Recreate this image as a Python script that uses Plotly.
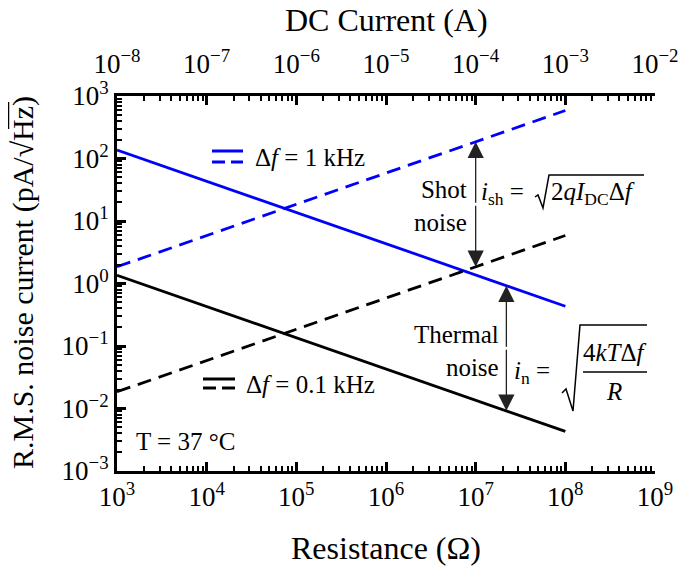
import math
import plotly.graph_objects as go

# ---------------- data ----------------
resistance = [1e3, 1e8]                 # Ohm (bottom axis)
thermal_1k = [137, 0.433]               # pA/sqrt(Hz), delta f = 1 kHz
thermal_01k = [1.35, 0.0043]            # pA/sqrt(Hz), delta f = 0.1 kHz

dc_current = [1e-8, 1e-3]               # A (top axis)
shot_1k = [1.85, 585]                   # pA/sqrt(Hz), delta f = 1 kHz
shot_01k = [0.0185, 5.85]               # pA/sqrt(Hz), delta f = 0.1 kHz

shot_arrow_current = 1e-4               # A
shot_arrow_vals = [185, 1.85]
thermal_arrow_res = 2.2e7               # Ohm
thermal_arrow_vals = [0.92, 0.0092]

x_tickvals = [1e3, 1e4, 1e5, 1e6, 1e7, 1e8, 1e9]
x_ticktext = ["10<sup>3</sup>", "10<sup>4</sup>", "10<sup>5</sup>", "10<sup>6</sup>",
              "10<sup>7</sup>", "10<sup>8</sup>", "10<sup>9</sup>"]
x2_tickvals = [1e-8, 1e-7, 1e-6, 1e-5, 1e-4, 1e-3, 1e-2]
x2_ticktext = ["10<sup>−8</sup>", "10<sup>−7</sup>", "10<sup>−6</sup>", "10<sup>−5</sup>",
               "10<sup>−4</sup>", "10<sup>−3</sup>", "10<sup>−2</sup>"]
y_tickvals = [1e-3, 1e-2, 1e-1, 1e0, 1e1, 1e2, 1e3]
y_ticktext = ["10<sup>−3</sup>", "10<sup>−2</sup>", "10<sup>−1</sup>", "10<sup>0</sup>",
              "10<sup>1</sup>", "10<sup>2</sup>", "10<sup>3</sup>"]

x_title = "Resistance (Ω)"
x2_title = "DC Current (A)"
y_title = "R.M.S. noise current (pA/√Hz)"

# ---------------- layout helpers ----------------
OFF = 8                      # default page body margin of the html page
W, H = 696, 567
# desired plot box in window pixels: x 117..655, y 96..471
ML, MR, MT, MB = 117 - OFF, W + OFF - 655, 96 - OFF, H + OFF - 471
PW, PH = W - ML - MR, H - MT - MB
FONT = "Liberation Serif, Times New Roman, serif"
BLUE = "#0000ff"


def px(x):
    return (x - OFF - ML) / PW


def py(y):
    return (H - MB - (y - OFF)) / PH


def minor_vals(lo, hi):
    out = []
    for e in range(lo, hi):
        for k in range(2, 10):
            out.append(k * 10.0 ** e)
    return out


fig = go.Figure()

fig.add_trace(go.Scatter(x=resistance, y=thermal_1k, mode="lines",
                         line=dict(color=BLUE, width=2.8), showlegend=False))
fig.add_trace(go.Scatter(x=resistance, y=thermal_01k, mode="lines",
                         line=dict(color="black", width=2.8), showlegend=False))
fig.add_trace(go.Scatter(x=dc_current, y=shot_1k, mode="lines", xaxis="x2",
                         line=dict(color=BLUE, width=2.8, dash="14px,8px"), showlegend=False))
fig.add_trace(go.Scatter(x=dc_current, y=shot_01k, mode="lines", xaxis="x2",
                         line=dict(color="black", width=2.8, dash="14px,8px"), showlegend=False))

axis_common = dict(type="log", showline=True, linewidth=3, linecolor="black",
                   ticks="inside", ticklen=9, tickwidth=2.5, tickcolor="black",
                   showgrid=False, zeroline=False, automargin=False,
                   tickfont=dict(family=FONT, size=27, color="black"))
minor_common = dict(ticks="inside", ticklen=5, tickwidth=2, tickcolor="black", tickmode="array")

fig.update_layout(
    width=W, height=H,
    margin=dict(l=ML, r=MR, t=MT, b=MB),
    paper_bgcolor="white", plot_bgcolor="white",
    font=dict(family=FONT, color="black"),
    xaxis=dict(range=[3, 9], tickmode="array", tickvals=x_tickvals, ticktext=x_ticktext,
               minor=dict(tickvals=minor_vals(3, 9), **minor_common),
               **axis_common),
    xaxis2=dict(range=[-8, -2], overlaying="x", side="top", anchor="y",
                tickmode="array", tickvals=x2_tickvals, ticktext=x2_ticktext,
                ticklabelstandoff=9,
                minor=dict(tickvals=minor_vals(-8, -2), **minor_common),
                **axis_common),
    yaxis=dict(range=[-3, 3], tickmode="array", tickvals=y_tickvals, ticktext=y_ticktext,
               minor=dict(tickvals=minor_vals(-3, 3), **minor_common),
               **axis_common),
)

ann_font = dict(family=FONT, size=25, color="black")
title_font = dict(family=FONT, size=32, color="black")
annotations = []
shapes = []

# axis titles
annotations.append(dict(x=px(386), y=py(548), xref="paper", yref="paper", xanchor="center", yanchor="middle",
                        text=x_title, showarrow=False, font=title_font))
annotations.append(dict(x=px(386), y=py(20), xref="paper", yref="paper", xanchor="center", yanchor="middle",
                        text=x2_title, showarrow=False, font=title_font))
annotations.append(dict(x=px(23), y=py(283), xref="paper", yref="paper", xanchor="center", yanchor="middle",
                        text=y_title, textangle=-90, showarrow=False,
                        font=dict(family=FONT, size=30, color="black")))
# radical bar over "Hz" in the y title
shapes.append(dict(type="line", xref="paper", yref="paper", x0=px(8.5), x1=px(8.5), y0=py(129), y1=py(102),
                   line=dict(color="black", width=1.5)))

# double arrows
for xref, xv, vals in [("x2", shot_arrow_current, shot_arrow_vals),
                       ("x", thermal_arrow_res, thermal_arrow_vals)]:
    xl = math.log10(xv)
    for a, b in [(vals[0], vals[1]), (vals[1], vals[0])]:
        annotations.append(dict(x=xl, y=math.log10(a), ax=xl, ay=math.log10((a * b) ** 0.5),
                                xref=xref, yref="y", axref=xref, ayref="y",
                                text="", showarrow=True, arrowhead=2, arrowsize=2.5,
                                arrowwidth=1.3, arrowcolor="#222222", standoff=0))

# legend samples
shapes.append(dict(type="line", xref="paper", yref="paper", x0=px(212), x1=px(243), y0=py(151), y1=py(151),
                   line=dict(color=BLUE, width=3)))
shapes.append(dict(type="line", xref="paper", yref="paper", x0=px(212), x1=px(243), y0=py(162), y1=py(162),
                   line=dict(color=BLUE, width=3, dash="13px,6px")))
annotations.append(dict(x=px(253), y=py(157), xref="paper", yref="paper", xanchor="left", yanchor="middle",
                        text="Δ<i>f</i> = 1 kHz", showarrow=False, font=ann_font))
shapes.append(dict(type="line", xref="paper", yref="paper", x0=px(203), x1=px(235), y0=py(379), y1=py(379),
                   line=dict(color="black", width=3)))
shapes.append(dict(type="line", xref="paper", yref="paper", x0=px(203), x1=px(235), y0=py(388), y1=py(388),
                   line=dict(color="black", width=3, dash="13px,6px")))
annotations.append(dict(x=px(244), y=py(384), xref="paper", yref="paper", xanchor="left", yanchor="middle",
                        text="Δ<i>f</i> = 0.1 kHz", showarrow=False, font=ann_font))

annotations.append(dict(x=px(134), y=py(441), xref="paper", yref="paper", xanchor="left", yanchor="middle",
                        text="T = 37 °C", showarrow=False, font=ann_font))

# shot noise text + formula
annotations.append(dict(x=px(469), y=py(206), xref="paper", yref="paper", xanchor="right", yanchor="middle",
                        text="Shot<br>noise", align="right", showarrow=False, font=ann_font))
annotations.append(dict(x=px(479), y=py(193), xref="paper", yref="paper", xanchor="left", yanchor="middle",
                        text="<i>i</i><sub>sh</sub> =", showarrow=False, font=ann_font))
annotations.append(dict(x=px(549), y=py(193), xref="paper", yref="paper", xanchor="left", yanchor="middle",
                        text="2<i>qI</i><sub>DC</sub>Δ<i>f</i>", showarrow=False, font=ann_font))
shapes.append(dict(type="path", xref="paper", yref="paper",
                   path=f"M {px(535)},{py(197)} L {px(538)},{py(195)} L {px(543)},{py(208)} "
                        f"L {px(549)},{py(175)} L {px(644)},{py(175)}",
                   line=dict(color="black", width=1.5)))

# thermal noise text + formula
annotations.append(dict(x=px(501), y=py(351), xref="paper", yref="paper", xanchor="right", yanchor="middle",
                        text="Thermal<br>noise", align="right", showarrow=False, font=ann_font))
annotations.append(dict(x=px(512), y=py(372), xref="paper", yref="paper", xanchor="left", yanchor="middle",
                        text="<i>i</i><sub>n</sub> =", showarrow=False, font=ann_font))
annotations.append(dict(x=px(615), y=py(352), xref="paper", yref="paper", xanchor="center", yanchor="middle",
                        text="4<i>kT</i>Δ<i>f</i>", showarrow=False, font=ann_font))
annotations.append(dict(x=px(614), y=py(391), xref="paper", yref="paper", xanchor="center", yanchor="middle",
                        text="<i>R</i>", showarrow=False, font=ann_font))
shapes.append(dict(type="line", xref="paper", yref="paper", x0=px(583), x1=px(647), y0=py(372), y1=py(372),
                   line=dict(color="black", width=1.5)))
shapes.append(dict(type="path", xref="paper", yref="paper",
                   path=f"M {px(562)},{py(393)} L {px(566)},{py(389)} L {px(573)},{py(411)} "
                        f"L {px(580)},{py(325)} L {px(647)},{py(325)}",
                   line=dict(color="black", width=1.5)))

fig.update_layout(annotations=annotations, shapes=shapes)
fig.write_html("out.html")
